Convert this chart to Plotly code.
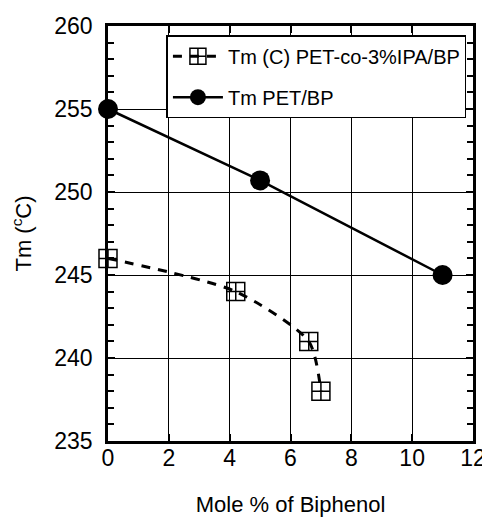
import plotly.graph_objects as go

# Data
bp_co = [0, 4.2, 6.6, 7.0]
tm_co = [246, 244, 241, 238]
bp_pet = [0, 5, 11]
tm_pet = [255, 250.7, 245]

name_co = "Tm (C) PET-co-3%IPA/BP"
name_pet = "Tm PET/BP"

fig = go.Figure()
fig.add_trace(go.Scatter(
    x=bp_co, y=tm_co, name=name_co, mode="lines+markers", legendgroup="a",
    line=dict(color="black", width=3, dash="9px,8px", shape="spline", smoothing=0.7),
    marker=dict(symbol="square-cross-open", size=18, color="black", line=dict(width=1.5)),
    cliponaxis=False,
))
fig.add_trace(go.Scatter(
    x=bp_pet, y=tm_pet, name=name_pet, mode="lines+markers", legendgroup="b",
    line=dict(color="black", width=2.5),
    marker=dict(symbol="circle", size=20, color="black"),
    cliponaxis=False,
))

font = "Liberation Sans, Arial, sans-serif"
fig.update_layout(
    width=482, height=509,
    margin=dict(l=100, r=17, t=18, b=76),
    paper_bgcolor="white", plot_bgcolor="white",
    font=dict(family=font, color="black", size=22),
    showlegend=True,
    legend=dict(
        x=0.982, y=0.978, xanchor="right", yanchor="top",
        bgcolor="white", bordercolor="black", borderwidth=1.5,
        font=dict(size=20), tracegroupgap=12, itemwidth=50,
    ),
)
fig.update_xaxes(
    range=[0, 12], dtick=2, tick0=0, automargin=False,
    showgrid=True, gridcolor="black", gridwidth=1.3,
    showline=True, linecolor="black", linewidth=2.5, mirror="allticks",
    ticks="inside", ticklen=7, tickwidth=1.5, tickcolor="black",
    zeroline=False, tickfont=dict(size=23), ticklabelstandoff=-5,
    title=dict(text="Mole % of Biphenol", font=dict(size=22), standoff=28),
)
fig.update_yaxes(
    range=[235, 260], dtick=5, tick0=235, automargin=False,
    showgrid=True, gridcolor="black", gridwidth=1.3,
    showline=True, linecolor="black", linewidth=2.5, mirror="allticks",
    ticks="inside", ticklen=7, tickwidth=1.5, tickcolor="black",
    minor=dict(dtick=1, ticks="inside", ticklen=6, tickwidth=1.5, tickcolor="black", showgrid=False),
    zeroline=False, tickfont=dict(size=23), ticklabelstandoff=8,
    title=dict(text="Tm (<sup>c</sup>C)", font=dict(size=22), standoff=20),
)

fig.write_html("out.html")
